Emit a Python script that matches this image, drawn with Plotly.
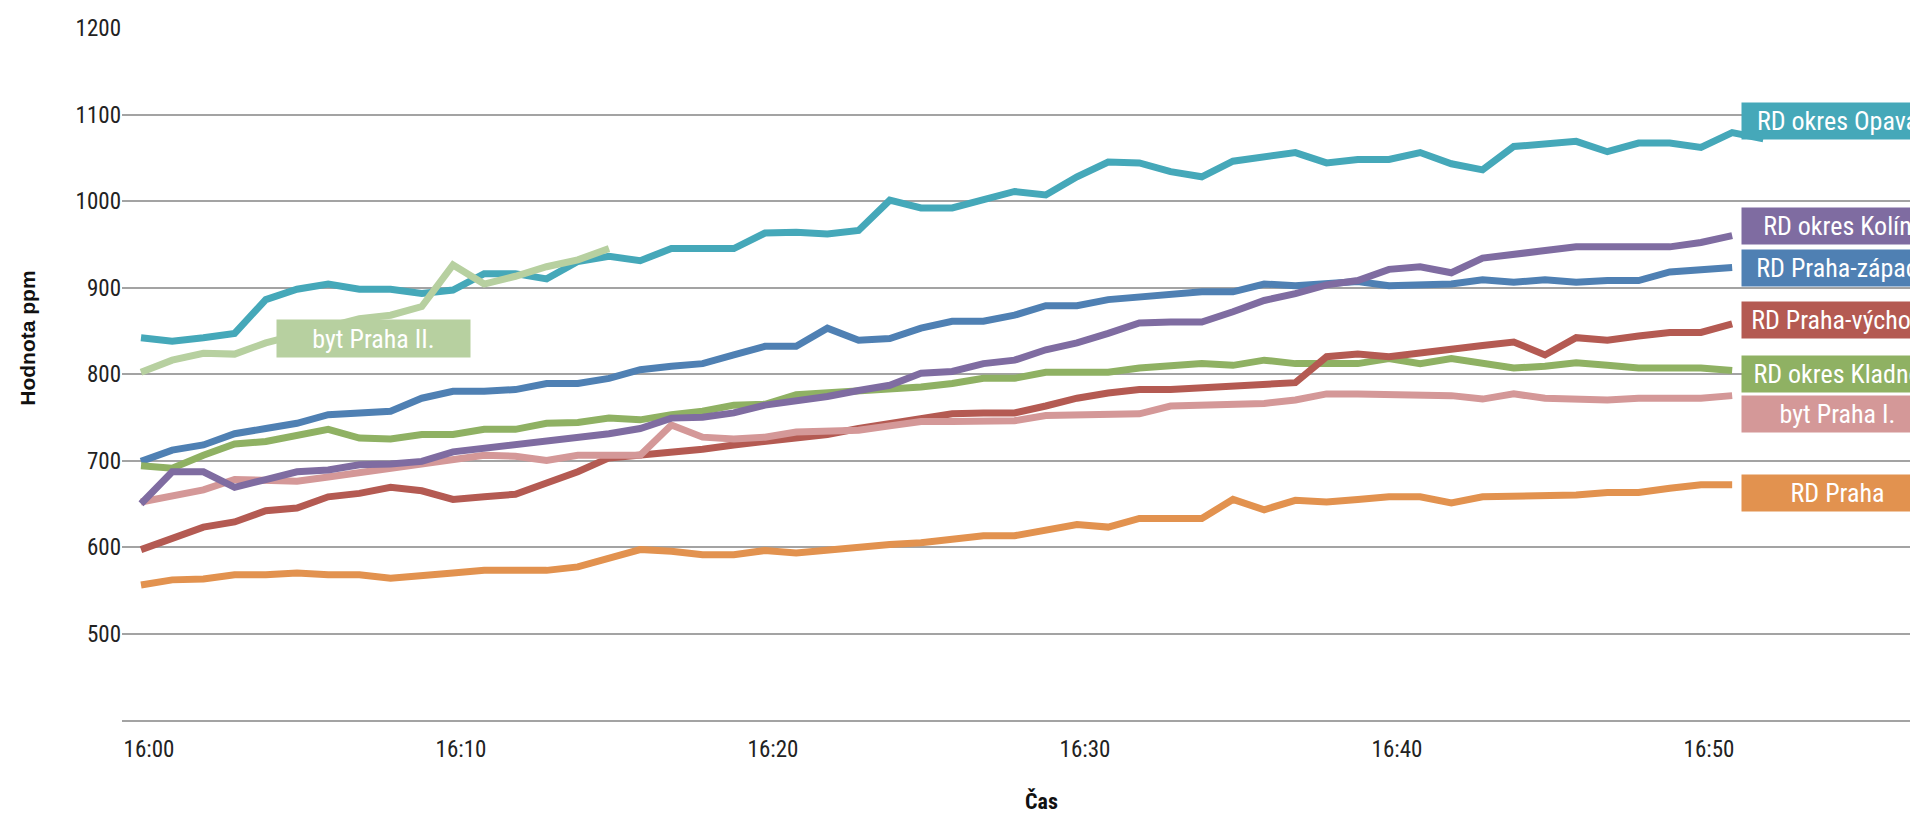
import plotly.graph_objects as go

# Measurement times: one reading per minute from 16:00
minutes = list(range(53))
tick_minutes = [0, 10, 20, 30, 40, 50]
tick_labels = ["16:00", "16:10", "16:20", "16:30", "16:40", "16:50"]
y_ticks = [500, 600, 700, 800, 900, 1000, 1100, 1200]

# CO2 concentration (ppm)
rd_opava = [842, 838, 842, 847, 886, 898, 904, 898, 898, 893,
            897, 916, 916, 910, 930, 936, 931, 945, 945, 945,
            963, 964, 962, 966, 1001, 992, 992, 1001, 1011, 1007,
            1028, 1045, 1044, 1034, 1028, 1046, 1052, 1056, 1044, 1048,
            1048, 1056, 1043, 1036, 1063, 1067, 1069, 1057, 1067, 1067,
            1062, 1079, 1072]
rd_kolin = [650, 687, 687, 669, 678, 687, 689, 695, 696, 699,
            710, 714, 720, 722, 726, 731, 737, 749, 750, 755,
            764, 768, 774, 781, 787, 801, 803, 812, 816, 828,
            836, 847, 859, 860, 860, 872, 885, 893, 903, 908,
            921, 924, 917, 934, 938, 943, 947, 947, 947, 947,
            952, 960]
rd_praha_zapad = [699, 712, 718, 731, 737, 743, 753, 755, 757, 772,
                  780, 780, 782, 789, 789, 795, 805, 809, 812, 822,
                  832, 832, 853, 839, 841, 853, 861, 861, 868, 879,
                  879, 886, 889, 893, 895, 895, 904, 902, 905, 907,
                  902, 903, 904, 909, 906, 909, 906, 908, 908, 918,
                  921, 923]
rd_praha_vychod = [597, 610, 623, 629, 642, 645, 658, 662, 669, 665,
                   655, 658, 661, 674, 687, 703, 706, 709, 713, 718,
                   722, 728, 730, 737, 743, 749, 754, 755, 755, 763,
                   772, 778, 782, 782, 784, 785, 789, 790, 820, 823,
                   820, 825, 829, 833, 837, 822, 842, 839, 844, 848,
                   848, 858]
rd_kladno = [694, 691, 706, 719, 722, 729, 736, 726, 725, 730,
             730, 736, 736, 743, 744, 749, 747, 753, 757, 764,
             765, 776, 778, 782, 784, 785, 789, 795, 795, 802,
             802, 802, 807, 809, 812, 810, 816, 812, 812, 812,
             818, 812, 818, 812, 807, 809, 813, 810, 807, 807,
             807, 804]
byt_praha_1 = [652, 659, 666, 678, 678, 676, 681, 686, 691, 695,
               699, 706, 705, 700, 706, 706, 706, 741, 727, 725,
               727, 733, 735, 735, 740, 745, 745, 745, 746, 752,
               752, 754, 754, 763, 764, 764, 766, 770, 777, 777,
               777, 775, 775, 771, 777, 772, 770, 770, 772, 772,
               772, 775]
rd_praha = [556, 562, 563, 568, 568, 570, 568, 568, 564, 568,
            570, 573, 573, 573, 577, 586, 597, 595, 591, 591,
            596, 593, 597, 599, 603, 605, 609, 613, 613, 620,
            626, 623, 633, 633, 633, 655, 643, 654, 652, 655,
            658, 658, 651, 658, 658, 660, 660, 663, 663, 668,
            672, 672]
byt_praha_2 = [802, 816, 824, 823, 836, 846, 855, 864, 868, 878,
               926, 904, 913, 924, 932, 945]

# name, values, colour, label centre (ppm) -- drawn bottom to top
series = [
    ("RD okres Opava", rd_opava, "#45A8B9", 1092),
    ("RD Praha-západ", rd_praha_zapad, "#4F80B3", 923),
    ("RD okres Kladno", rd_kladno, "#8FB163", 800),
    ("RD Praha-východ", rd_praha_vychod, "#B45A52", 863),
    ("byt Praha I.", byt_praha_1, "#D49898", 754),
    ("RD okres Kolín", rd_kolin, "#7F6CA1", 971),
    ("RD Praha", rd_praha, "#E2924F", 663),
    ("byt Praha II.", byt_praha_2, "#B7D0A0", 841),
]

NARROW = "Roboto Condensed, Liberation Sans Narrow, DejaVu Sans Condensed, sans-serif"

fig = go.Figure()
for name, vals, color, _ in series:
    fig.add_trace(go.Scatter(
        x=minutes[:len(vals)], y=vals, mode="lines", name=name,
        line=dict(color=color, width=7), showlegend=False,
        hoverinfo="skip",
    ))

label_font = dict(family=NARROW, size=26, color="white")

# line labels
for name, vals, color, label_y in series:
    if name == "byt Praha II.":
        fig.add_annotation(x=4, y=label_y, xref="x", yref="y", xshift=10,
                           text=name, showarrow=False, xanchor="left",
                           yanchor="middle", align="center", width=193,
                           height=37, borderpad=0, bgcolor=color,
                           font=label_font)
    else:
        fig.add_annotation(x=len(rd_kolin) - 1, y=label_y, xref="x", yref="y",
                           xshift=9, text=name, showarrow=False,
                           xanchor="left", yanchor="middle", align="center",
                           width=191, height=36, borderpad=0, bgcolor=color,
                           font=label_font)

# axis titles
fig.add_annotation(x=-0.0533, y=0.552, xref="paper", yref="paper",
                   text="<b>Hodnota ppm</b>", textangle=-90, showarrow=False,
                   xanchor="center", yanchor="middle",
                   font=dict(family="Liberation Sans, Arial, sans-serif",
                             size=21, color="#111111"))
fig.add_annotation(x=0.5143, y=-0.117, xref="paper", yref="paper",
                   text="<b>Čas</b>", showarrow=False,
                   xanchor="center", yanchor="middle",
                   font=dict(family=NARROW, size=22, color="#111111"))

tick_font = dict(family=NARROW, size=23, color="#222222")
grid_color = "#A3A3A3"

fig.update_layout(
    width=1910, height=816,
    margin=dict(l=122, r=0, t=28, b=96, autoexpand=False),
    paper_bgcolor="white", plot_bgcolor="white",
    xaxis=dict(range=[-0.609, 56.7], tickmode="array", tickvals=tick_minutes,
               ticktext=tick_labels, tickfont=tick_font, showgrid=False,
               zeroline=False, showline=True, linecolor=grid_color,
               linewidth=1.6, ticks="", ticklabelshift=8,
               ticklabelstandoff=8, fixedrange=True),
    yaxis=dict(range=[400, 1200], tickmode="array", tickvals=y_ticks,
               tickfont=tick_font, showgrid=True, gridcolor=grid_color,
               gridwidth=1.6, zeroline=False, showline=False, ticks="",
               ticklabelstandoff=0, fixedrange=True),
)

fig.write_html("out.html")
